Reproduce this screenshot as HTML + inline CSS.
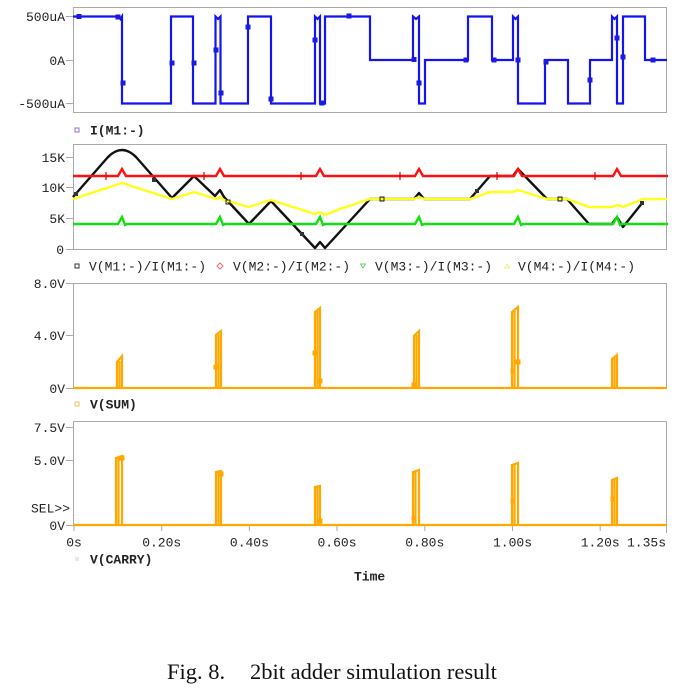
<!DOCTYPE html>
<html><head><meta charset="utf-8"><style>
html,body{margin:0;padding:0;background:#fff;}
svg{display:block;}
.t{font-family:"Liberation Mono",monospace;font-size:13px;fill:#222;}
.b{font-weight:bold;}
.cap{font-family:"Liberation Serif",serif;font-size:22.5px;fill:#111;}
</style></head><body>
<svg width="682" height="695" viewBox="0 0 682 695" xmlns="http://www.w3.org/2000/svg">
<rect width="682" height="695" fill="#fff"/>
<!-- frames -->
<g fill="none" stroke="#aaa" stroke-width="1">
<rect x="73.5" y="7.5" width="593" height="105"/>
<rect x="73.5" y="144.5" width="593" height="105"/>
<rect x="73.5" y="283.5" width="593" height="105"/>
<rect x="73.5" y="421.5" width="593" height="104"/>
<!-- y ticks -->
<path d="M66,16.5H73 M66,60.5H73 M66,103.5H73"/>
<path d="M66,157.5H73 M66,187.5H73 M66,218.5H73 M66,249.5H73"/>
<path d="M66,283.5H73 M66,335.5H73 M66,388.5H73"/>
<path d="M66,427.5H73 M66,460.5H73 M66,525.5H73"/>
<!-- x ticks -->
<path d="M74,525V531 M161.7,525V531 M249.4,525V531 M337,525V531 M424.8,525V531 M512.5,525V531 M600.2,525V531 M666.5,525V533"/>
</g>

<!-- Panel 1 labels -->
<text class="t" x="65" y="21" text-anchor="end">500uA</text>
<text class="t" x="65" y="65" text-anchor="end">0A</text>
<text class="t" x="65" y="108" text-anchor="end">-500uA</text>
<rect x="75" y="128" width="4" height="4" fill="none" stroke="#9070d0" stroke-width="1"/>
<text class="t b" x="90" y="134.5">I(M1:-)</text>

<!-- Panel 1 blue -->
<path fill="none" stroke="#1414f0" stroke-width="2.2" stroke-linejoin="miter" d="M73,16.5 H119 L120.5,19 L122,16.5 V103.5 H171 V16.5 H193 V103.5 H215.5 V16.5 L218,19 L220.5,16.5 V103.5 H248 V16.5 H271 V103.5 H315 V16.5 L317.5,19 L320,16.5 V103.5 H325 V16.5 H370 V60 H413 V16.5 L416,19 L419,16.5 V103.5 H425 V60 H468 V16.5 H492 V60 H513 V16.5 L515.5,19 L518,16.5 V103.5 H545 V60 H568 V103.5 H590 V60 H612 V16.5 L614.5,19 L617,16.5 V103.5 H623 V16.5 H645 V60 H667"/>
<g fill="#1a1ae0">
<rect x="76.5" y="14" width="5" height="5"/><rect x="115.5" y="14.5" width="5" height="5"/>
<rect x="120.5" y="80.5" width="5" height="5"/><rect x="169.5" y="60.5" width="5" height="5"/>
<rect x="191.5" y="60.5" width="5" height="5"/><rect x="213.5" y="47.5" width="5" height="5"/>
<rect x="218.5" y="90.5" width="5" height="5"/><rect x="245.5" y="24.5" width="5" height="5"/>
<rect x="268.5" y="96.5" width="5" height="5"/><rect x="312.5" y="37.5" width="5" height="5"/>
<rect x="319.5" y="100.5" width="5" height="5"/><rect x="346.5" y="13.5" width="5" height="5"/>
<rect x="411.5" y="57" width="5" height="5"/><rect x="416.5" y="80.5" width="5" height="5"/>
<rect x="463.5" y="57.5" width="5" height="5"/><rect x="491.5" y="57.5" width="5" height="5"/>
<rect x="515.5" y="57.5" width="5" height="5"/><rect x="543.5" y="59.5" width="5" height="5"/>
<rect x="587.5" y="77.5" width="5" height="5"/><rect x="614.5" y="35.5" width="5" height="5"/>
<rect x="620.5" y="54.5" width="5" height="5"/><rect x="650.5" y="57.5" width="5" height="5"/>
</g>

<!-- Panel 2 labels -->
<text class="t" x="65" y="162" text-anchor="end">15K</text>
<text class="t" x="65" y="192" text-anchor="end">10K</text>
<text class="t" x="65" y="223" text-anchor="end">5K</text>
<text class="t" x="64" y="254" text-anchor="end">0</text>
<rect x="75" y="264" width="4" height="4" fill="none" stroke="#333" stroke-width="1"/>
<text class="t" x="89" y="270.5">V(M1:-)/I(M1:-)</text>
<path d="M220,263 l3,3 l-3,3 l-3,-3z" fill="none" stroke="#e07070" stroke-width="1"/>
<text class="t" x="233" y="270.5">V(M2:-)/I(M2:-)</text>
<path d="M360.5,264 h5 l-2.5,4z" fill="none" stroke="#70d070" stroke-width="1"/>
<text class="t" x="375" y="270.5">V(M3:-)/I(M3:-)</text>
<path d="M504.5,268 h5 l-2.5,-4z" fill="none" stroke="#f0f080" stroke-width="1"/>
<text class="t" x="518" y="270.5">V(M4:-)/I(M4:-)</text>

<!-- Panel 2 curves -->
<path fill="none" stroke="#111" stroke-width="2.4" stroke-linejoin="round" d="M73,197 L108,157 Q122,143 136,157 L172,198 L194,176 L215,196 L220,190 L224,197 L249,224 L271,201 L315,248 L320,242 L325,248 L370,199 L414,199 L419,193 L424,199 L470,199 L490,176 L513,176 L518,169 L547,199 L567,199 L589,224 L612,224 L617,217 L623,227 L643,202"/>
<path fill="none" stroke="#ffff1a" stroke-width="2.4" stroke-linejoin="round" d="M73,199 L122,183 L172,199 L194,192 L216,199 L220,197 L224,200 L249,207 L271,200 L315,214 L320,212 L325,215 L340,209 L370,199 L414,199 L419,197 L424,199 L470,199 L490,192 L513,192 L518,190 L547,199 L567,199 L589,207 L612,207 L617,205 L623,207 L643,199 L667,199"/>
<path fill="none" stroke="#ff1010" stroke-width="2.4" stroke-linejoin="miter" d="M73,176 H118 L122,169 L126,176 H216 L220,169 L224,176 H316 L320,169 L324,176 H415 L419,169 L423,176 H514 L518,169 L522,176 H613 L617,169 L621,176 H668"/>
<path fill="none" stroke="#10e010" stroke-width="2.4" stroke-linejoin="miter" d="M73,224 H118 L122,217 L125,225 L127,224 H216 L220,217 L223,225 L225,224 H316 L320,217 L323,225 L325,224 H415 L419,217 L422,225 L424,224 H514 L518,217 L521,225 L523,224 H613 L617,217 L620,225 L622,224 H668"/>
<g stroke="#d00" stroke-width="1.2"><path d="M106,172V180 M204,172V180 M301,172V180 M400,172V180 M497,172V180 M595,172V180"/></g>
<g fill="#333"><rect x="74" y="192" width="4" height="4"/><rect x="152" y="178" width="4" height="4"/><rect x="300" y="232" width="4" height="4"/><rect x="475" y="189" width="4" height="4"/><rect x="640" y="201" width="4" height="4"/></g>
<g fill="none" stroke="#222" stroke-width="1"><rect x="226" y="200" width="4" height="4"/><rect x="380" y="197" width="4" height="4"/><rect x="558" y="197" width="4" height="4"/></g>

<!-- Panel 3 labels -->
<text class="t" x="65" y="288" text-anchor="end">8.0V</text>
<text class="t" x="65" y="340" text-anchor="end">4.0V</text>
<text class="t" x="65" y="393" text-anchor="end">0V</text>
<rect x="75" y="402" width="4" height="4" fill="none" stroke="#f0c060" stroke-width="1"/>
<text class="t b" x="90" y="408.5">V(SUM)</text>

<!-- Panel 3 orange -->
<g fill="none" stroke="#ffa800" stroke-width="2.2" stroke-linejoin="miter">
<path d="M73,388 H667"/>
<path d="M117,388 V362 L122,356 V388 M119.5,388 V361"/>
<path d="M216,388 V335 L221,331 V388 M218.5,388 V334"/>
<path d="M315,388 V312 L320,308 V388 M317.5,388 V311"/>
<path d="M414,388 V336 L419,331 V388 M416.5,388 V335"/>
<path d="M512,388 V312 L518,307 V388 M514.5,388 V311"/>
<path d="M612,388 V359 L617,355 V388 M614.5,388 V358"/>
</g>
<g fill="#ffa800"><rect x="213.5" y="364.5" width="5" height="5"/><rect x="312.5" y="350.5" width="5" height="5"/><rect x="317.5" y="378.5" width="5" height="5"/><rect x="411.5" y="382.5" width="5" height="5"/><rect x="510.5" y="368.5" width="5" height="5"/><rect x="515.5" y="359.5" width="5" height="5"/></g>

<!-- Panel 4 labels -->
<text class="t" x="65" y="432" text-anchor="end">7.5V</text>
<text class="t" x="65" y="465" text-anchor="end">5.0V</text>
<text class="t" x="70" y="512.5" text-anchor="end">SEL&gt;&gt;</text>
<text class="t" x="65" y="530" text-anchor="end">0V</text>

<!-- Panel 4 orange -->
<g fill="none" stroke="#ffa800" stroke-width="2.2" stroke-linejoin="miter">
<path d="M73,525 H667"/>
<path d="M116,525 V458 L122,456 V525 M118.5,525 V457"/>
<path d="M216,525 V472 L221,471 V525 M218.5,525 V471"/>
<path d="M315,525 V487 L320,486 V525 M317.5,525 V486"/>
<path d="M413,525 V472 L419,470 V525 M415.5,525 V471"/>
<path d="M512,525 V465 L518,463 V525 M514.5,525 V464"/>
<path d="M612,525 V480 L617,478 V525 M614.5,525 V479"/>
</g>
<g fill="#ffa800"><rect x="119.5" y="455.5" width="5" height="5"/><rect x="218.5" y="471.5" width="5" height="5"/><rect x="317.5" y="518.5" width="5" height="5"/><rect x="411.5" y="515.5" width="5" height="5"/><rect x="510.5" y="498.5" width="5" height="5"/><rect x="610.5" y="496.5" width="5" height="5"/></g>

<!-- x labels -->
<text class="t" x="74" y="546.5" text-anchor="middle">0s</text>
<text class="t" x="161.7" y="546.5" text-anchor="middle">0.20s</text>
<text class="t" x="249.4" y="546.5" text-anchor="middle">0.40s</text>
<text class="t" x="337" y="546.5" text-anchor="middle">0.60s</text>
<text class="t" x="424.8" y="546.5" text-anchor="middle">0.80s</text>
<text class="t" x="512.5" y="546.5" text-anchor="middle">1.00s</text>
<text class="t" x="600.2" y="546.5" text-anchor="middle">1.20s</text>
<text class="t" x="666" y="546.5" text-anchor="end">1.35s</text>
<rect x="75" y="557" width="4" height="4" fill="#e8e8f0"/>
<text class="t b" x="90" y="563.5">V(CARRY)</text>
<text class="t b" x="354" y="580.5">Time</text>

<!-- caption -->
<text class="cap" x="167" y="679">Fig. 8.</text>
<text class="cap" x="250" y="679">2bit adder simulation result</text>
</svg>
</body></html>
